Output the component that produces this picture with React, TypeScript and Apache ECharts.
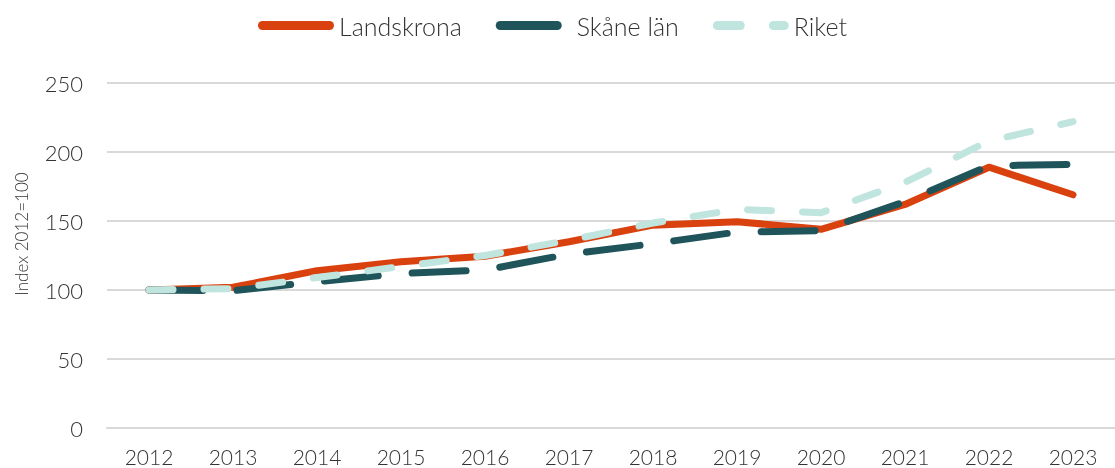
import React, { useEffect, useRef } from "react";
import * as echarts from "echarts";

const years = ["2012", "2013", "2014", "2015", "2016", "2017", "2018", "2019", "2020", "2021", "2022", "2023"];
const landskrona = [100, 102, 114, 120.5, 124.5, 135, 147, 149.5, 144, 162, 189, 169];
const skane = [100, 99.5, 106, 112, 114.5, 126, 133.5, 142, 143, 164, 190, 191];
const riket = [100, 101, 109, 117, 125, 136, 148.5, 158.5, 156, 178, 208, 222];

const FONT = "Lato";
const TEXT = "#333333";

const ICON_SOLID = "path://M4.5,0H71.5A4.5,4.5,0,0,1,71.5,9H4.5A4.5,4.5,0,0,1,4.5,0Z";
const ICON_LONG = "path://M4.5,0H61.5A4.5,4.5,0,0,1,61.5,9H4.5A4.5,4.5,0,0,1,4.5,0ZM76,9";
const ICON_SHORT =
  "path://M4.5,0H27.5A4.5,4.5,0,0,1,27.5,9H4.5A4.5,4.5,0,0,1,4.5,0ZM60.5,0H71.5A4.5,4.5,0,0,1,71.5,9H60.5A4.5,4.5,0,0,1,60.5,0Z";

export default function App() {
  const ref = useRef<HTMLDivElement>(null);
  useEffect(() => {
    if (!ref.current) return;
    const chart = echarts.init(ref.current, undefined, { renderer: "svg" });
    chart.setOption({
      animation: false,
      textStyle: { fontFamily: FONT },
      legend: {
        top: 8,
        left: 253,
        itemWidth: 76,
        itemHeight: 9,
        itemGap: 34,
        textStyle: { fontSize: 25, color: TEXT, fontFamily: FONT, fontWeight: 300 },
        data: [
          { name: "Landskrona", icon: ICON_SOLID },
          { name: "Skåne län", icon: ICON_LONG },
          { name: "Riket", icon: ICON_SHORT },
        ],
      },
      grid: { left: 107, right: 0, top: 83, bottom: 40, containLabel: false },
      xAxis: {
        type: "category",
        data: years,
        boundaryGap: true,
        axisLine: { lineStyle: { color: "#d9d9d9", width: 2 } },
        axisTick: { show: false },
        axisLabel: { fontSize: 21, lineHeight: 18, color: TEXT, fontFamily: FONT, fontWeight: 300, margin: 19 },
      },
      yAxis: {
        type: "value",
        min: 0,
        max: 250,
        interval: 50,
        axisLine: { show: false },
        axisTick: { show: false },
        splitLine: { lineStyle: { color: "#d9d9d9", width: 2 } },
        axisLabel: { fontSize: 22, color: TEXT, fontFamily: FONT, fontWeight: 300, margin: 24 },
      },
      graphic: [
        {
          type: "text",
          x: 21,
          y: 234,
          rotation: Math.PI / 2,
          style: {
            text: "Index 2012=100",
            fontSize: 17,
            fontFamily: FONT,
            fontWeight: 300,
            fill: TEXT,
            textAlign: "center",
            textVerticalAlign: "middle",
          },
        },
      ],
      series: [
        {
          name: "Landskrona",
          type: "line",
          data: landskrona,
          symbol: "none",
          z: 3,
          itemStyle: { color: "#D9410F" },
          lineStyle: { color: "#D9410F", width: 7, cap: "round", join: "round" },
        },
        {
          name: "Skåne län",
          type: "line",
          data: skane,
          symbol: "none",
          z: 4,
          itemStyle: { color: "#1F545A" },
          lineStyle: { color: "#1F545A", width: 7, type: [54, 34], cap: "round", join: "round" },
        },
        {
          name: "Riket",
          type: "line",
          data: riket,
          symbol: "none",
          z: 5,
          itemStyle: { color: "#C0E5DF" },
          lineStyle: { color: "#C0E5DF", width: 7, type: [24, 31], cap: "round", join: "round" },
        },
      ],
    });
    return () => chart.dispose();
  }, []);
  return <div ref={ref} style={{ position: "fixed", left: 0, top: 0, width: 1115, height: 468 }} />;
}
